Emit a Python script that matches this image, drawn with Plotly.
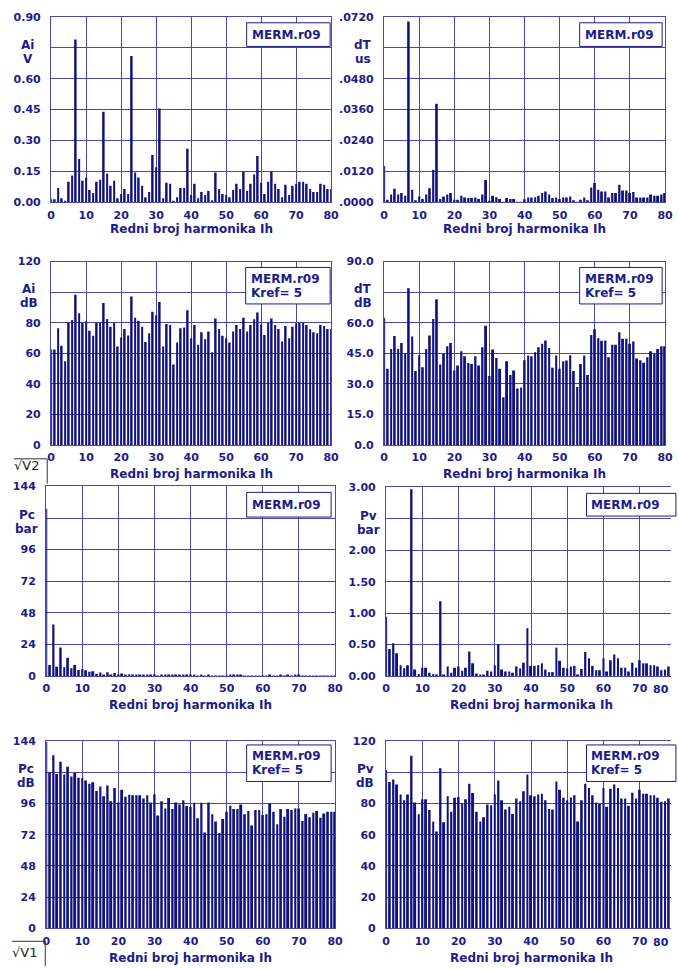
import plotly.graph_objects as go

# Harmonic spectra of the MERM.r09 measurement: amplitudes and their dB levels
harmonics = list(range(81))

ai_v = [0.015, 0.015, 0.07, 0.02, 0.007, 0.10, 0.13, 0.79, 0.21, 0.105,
        0.12, 0.06, 0.045, 0.10, 0.11, 0.44, 0.14, 0.08, 0.105, 0.02,
        0.04, 0.065, 0.04, 0.71, 0.145, 0.12, 0.08, 0.025, 0.05, 0.23,
        0.17, 0.455, 0.02, 0.095, 0.09, 0.005, 0.025, 0.07, 0.07, 0.26,
        0.035, 0.09, 0.02, 0.05, 0.035, 0.055, 0.01, 0.145, 0.065, 0.04,
        0.035, 0.025, 0.06, 0.09, 0.065, 0.15, 0.055, 0.09, 0.135, 0.225,
        0.095, 0.04, 0.10, 0.15, 0.09, 0.065, 0.025, 0.085, 0.035, 0.08,
        0.09, 0.10, 0.10, 0.09, 0.065, 0.05, 0.05, 0.09, 0.085, 0.065, 0.065]

dt_us = [0.0141, 0.001, 0.003, 0.0053, 0.003, 0.0036, 0.0026, 0.0702, 0.0049, 0.0008,
         0.0023, 0.0013, 0.003, 0.0055, 0.0126, 0.0383, 0.0013, 0.0023, 0.003, 0.0036,
         0.001, 0.001, 0.0026, 0.0019, 0.0017, 0.0017, 0.0019, 0.0013, 0.003, 0.0087,
         0.0004, 0.0026, 0.002, 0.0013, 0.0001, 0.0017, 0.0013, 0.0013, 0.0001, 0.0001,
         0.0012, 0.0019, 0.0019, 0.002, 0.0026, 0.0036, 0.0042, 0.003, 0.0017, 0.0019,
         0.0013, 0.0019, 0.0019, 0.0023, 0.0008, 0.0001, 0.001, 0.0019, 0.0008, 0.0058,
         0.0075, 0.0049, 0.0042, 0.0042, 0.0019, 0.0036, 0.0036, 0.0068, 0.0046, 0.0046,
         0.0036, 0.004, 0.0019, 0.0019, 0.0019, 0.0019, 0.003, 0.0026, 0.0026, 0.003, 0.0036]

ai_db = [62.4, 62.4, 76.3, 65, 54.8, 80, 81.7, 98.3, 86.2, 80,
         81, 74.8, 71.4, 80, 80, 92.9, 82.4, 77.4, 80, 64.5,
         70.3, 75.9, 71.6, 97.2, 83.2, 81.3, 77.4, 67.3, 73.1, 87.1,
         84.9, 93.5, 64.5, 79.1, 78.5, 52.7, 67, 76.3, 76.8, 88.2,
         69.9, 78.5, 65.6, 73.8, 69.2, 74.2, 60.6, 82.8, 75.9, 71.4,
         69.9, 67, 74.2, 78.5, 75.9, 83.2, 74.2, 78.5, 82.2, 86.7,
         78.9, 72, 80, 82.8, 78.5, 75.9, 67.7, 77.8, 69.9, 77.4,
         79.6, 80, 80, 78.5, 75.7, 73.8, 73.1, 78.5, 77.8, 75.9, 75.9]

dt_db = [62.4, 37.4, 47.1, 53.5, 47.1, 50, 44.8, 76.9, 53.2, 36.3,
         44, 38.2, 47.1, 53.7, 61.8, 71.5, 39.5, 44.8, 48.4, 50,
         36.6, 39, 46, 43.5, 40.2, 39.8, 43.5, 39, 47.9, 58.5,
         33.9, 46.8, 42.7, 37.4, 23.4, 41.1, 34.4, 36.6, 27.7, 28.2,
         41.6, 43.9, 43.5, 45.5, 47.9, 49.7, 51.3, 47.6, 37.9, 43.9,
         37.4, 41.1, 41.5, 44, 36.3, 28.5, 39.8, 43.9, 34.4, 54,
         56.8, 52.4, 51.1, 51.3, 43.1, 49.2, 49.2, 55.3, 52.1, 52.1,
         49.7, 50.8, 42.4, 41.6, 40.3, 43.1, 46, 44.8, 47.1, 48.4, 48.4]

pc_bar = [127, 8.3, 39, 7, 21.5, 6.5, 13.8, 5.8, 8.3, 4.5,
          5.3, 4.2, 3.2, 3.6, 1.7, 2.5, 1.05, 2.7, 0.7, 2.2,
          0.6, 1.9, 1.0, 1.2, 1.1, 1.1, 1.1, 0.85, 1.1, 0.6,
          1.2, 0.19, 0.7, 0.35, 0.9, 0.33, 0.6, 0.5, 0.73, 0.44,
          0.41, 0.58, 0.15, 0.58, 0.04, 0.6, 0.21, 0.11, 0.04, 0.14,
          0.27, 0.45, 0.33, 0.33, 0.5, 0.21, 0.28, 0.08, 0.31, 0.31,
          0.2, 0.21, 0.55, 0.27, 0.09, 0.33, 0.17, 0.33, 0.31, 0.35,
          0.35, 0.12, 0.22, 0.16, 0.24, 0.28, 0.16, 0.23, 0.27, 0.27, 0.27]

pv_bar = [0.94, 0.43, 0.52, 0.36, 0.17, 0.12, 0.17, 2.97, 0.10, 0.03,
          0.13, 0.13, 0.05, 0.03, 0.01, 1.19, 0.02, 0.15, 0.05, 0.13,
          0.15, 0.08, 0.13, 0.39, 0.2, 0.04, 0.02, 0.02, 0.08, 0.07,
          0.17, 0.5, 0.1, 0.07, 0.07, 0.05, 0.15, 0.12, 0.21, 0.76,
          0.16, 0.16, 0.17, 0.2, 0.1, 0.06, 0.06, 0.45, 0.24, 0.13,
          0.12, 0.15, 0.16, 0.02, 0.11, 0.38, 0.28, 0.16, 0.09, 0.09,
          0.28, 0.07, 0.25, 0.34, 0.28, 0.13, 0.13, 0.07, 0.21, 0.13,
          0.25, 0.2, 0.2, 0.17, 0.17, 0.15, 0.09, 0.1, 0.15, 0.13, 0.13]

pc_db = [143.3, 120, 133.1, 118.7, 128.1, 118.2, 124.3, 116.7, 119.5, 115.7,
         115.5, 113.7, 111.2, 112.4, 105.6, 109.1, 101.6, 109.9, 97.8, 107.9,
         96.8, 106.6, 101.1, 102.8, 102.3, 102.3, 102.3, 99.8, 102.3, 96.8,
         103.1, 86.7, 97.8, 92.2, 100.3, 91.7, 96.8, 95.3, 98.5, 94,
         93.5, 96.5, 84.6, 96.5, 73.8, 96.8, 87.7, 82.1, 73.3, 84.1,
         89.7, 94.2, 91.7, 91.7, 95.3, 87.7, 90.2, 79.1, 91, 91,
         87.2, 87.7, 96, 89.7, 80.1, 91.7, 85.9, 91.7, 91, 92.2,
         92.2, 82.6, 87.9, 85.4, 88.9, 90.2, 85.1, 88.4, 89.7, 89.7, 89.7]

pv_db = [101.5, 93.7, 95.4, 92.2, 85.7, 82.1, 85.7, 110.5, 80.6, 73.1,
         82.7, 82.7, 75.8, 68.4, 62.1, 102.5, 68, 84.6, 74.7, 83.6,
         84.2, 80, 82.7, 92.6, 86.7, 74.7, 68.4, 71.2, 79.4, 78.9,
         85.9, 94.7, 82.1, 76.2, 77.9, 73.3, 83.2, 81.5, 87.8, 98.5,
         85.3, 84.6, 85.7, 86.3, 82.1, 76.4, 76.2, 94.1, 88.8, 83.6,
         82.1, 83.8, 85.3, 68.4, 82.1, 92.6, 89.9, 85.3, 80.6, 79.6,
         89.9, 77.9, 89.5, 92.2, 89.9, 83.2, 83.2, 78.5, 86.9, 83.2,
         88.8, 86.3, 86.3, 85.3, 85.3, 83.6, 81.1, 81.5, 83.2, 82.7, 82.7]

# y tick positions and labels (the blank slot carries the quantity/unit label)
ai_v_ticks = [0, 0.15, 0.30, 0.45, 0.60, 0.75, 0.90]
ai_v_text = ["0.00", "0.15", "0.30", "0.45", "0.60", "", "0.90"]
dt_us_ticks = [0, 0.012, 0.024, 0.036, 0.048, 0.060, 0.072]
dt_us_text = [".0000", ".0120", ".0240", ".0360", ".0480", "", ".0720"]
ai_db_ticks = [0, 20, 40, 60, 80, 100, 120]
ai_db_text = ["0", "20", "40", "60", "80", "", "120"]
dt_db_ticks = [0, 15, 30, 45, 60, 75, 90]
dt_db_text = ["0.0", "15.0", "30.0", "45.0", "60.0", "", "90.0"]
pc_bar_ticks = [0, 24, 48, 72, 96, 120, 144]
pc_bar_text = ["0", "24", "48", "72", "96", "", "144"]
pv_bar_ticks = [0, 0.5, 1.0, 1.5, 2.0, 2.5, 3.0]
pv_bar_text = ["0.00", "0.50", "1.00", "1.50", "2.00", "", "3.00"]
pc_db_ticks = pc_bar_ticks
pc_db_text = pc_bar_text
pv_db_ticks = ai_db_ticks
pv_db_text = ai_db_text
x_ticks = [0, 10, 20, 30, 40, 50, 60, 70, 80]

W, H = 679, 969
BAR = "#10107e"
GRID = "#4a4aa6"
TEXT = "#1c1c8a"
FAMILY = "DejaVu Sans"
XTITLE = "Redni broj harmonika Ih"


def fx(p):
    return p / W


def fy(p):
    return 1 - p / H


# pixel frame of each panel: left, right(80), top, bottom
panels = [
    dict(v=ai_v, tv=ai_v_ticks, tt=ai_v_text, ymax=0.9, x0=48, x1=333, t=11, b=199,
         unit=("Ai", "V"), ux=24, box=(247, 17, 332, 41), lines=["MERM.r09"], title_y=226),
    dict(v=dt_us, tv=dt_us_ticks, tt=dt_us_text, ymax=0.072, x0=387, x1=673, t=11, b=199,
         unit=("dT", "us"), ux=365, box=(586, 17, 670, 41), lines=["MERM.r09"], title_y=226),
    dict(v=ai_db, tv=ai_db_ticks, tt=ai_db_text, ymax=120, x0=48, x1=333, t=259, b=445,
         unit=("Ai", "dB"), ux=25, box=(246, 265, 332, 302), lines=["MERM.r09", "Kref= 5"], title_y=474),
    dict(v=dt_db, tv=dt_db_ticks, tt=dt_db_text, ymax=90, x0=387, x1=673, t=259, b=445,
         unit=("dT", "dB"), ux=365, box=(586, 265, 670, 302), lines=["MERM.r09", "Kref= 5"], title_y=474),
    dict(v=pc_bar, tv=pc_bar_ticks, tt=pc_bar_text, ymax=144, x0=43, x1=337, t=487, b=679,
         unit=("Pc", "bar"), ux=23, box=(247, 493, 333, 518), lines=["MERM.r09"], title_y=709),
    dict(v=pv_bar, tv=pv_bar_ticks, tt=pv_bar_text, ymax=3.0, x0=389, x1=684, t=488, b=679,
         unit=("Pv", "bar"), ux=371, box=(593, 494, 684, 517), lines=["MERM.r09"], title_y=709),
    dict(v=pc_db, tv=pc_db_ticks, tt=pc_db_text, ymax=144, x0=43, x1=337, t=745, b=935,
         unit=("Pc", "dB"), ux=22, box=(247, 749, 333, 786), lines=["MERM.r09", "Kref= 5"], title_y=965),
    dict(v=pv_db, tv=pv_db_ticks, tt=pv_db_text, ymax=120, x0=389, x1=684, t=745, b=935,
         unit=("Pv", "dB"), ux=368, box=(593, 749, 684, 786), lines=["MERM.r09", "Kref= 5"], title_y=965),
]

fig = go.Figure()
layout = dict(
    width=W, height=H, margin=dict(l=0, r=0, t=0, b=0),
    paper_bgcolor="white", plot_bgcolor="white", showlegend=False,
    annotations=[], shapes=[],
)

tick_font = dict(family=FAMILY, size=11, color=TEXT, weight="bold")
label_font = dict(family=FAMILY, size=12, color=TEXT, weight="bold")


def text_at(x, y, s, font, anchor="center"):
    layout["annotations"].append(dict(
        xref="paper", yref="paper", x=fx(x), y=fy(y), xanchor=anchor, yanchor="middle",
        text=s, showarrow=False, font=font,
    ))


for i, p in enumerate(panels, start=1):
    sfx = "" if i == 1 else str(i)
    clipped = p["x1"] > W
    right = min(p["x1"], W)
    xmax = 80 * (right - p["x0"]) / (p["x1"] - p["x0"])

    fig.add_trace(go.Bar(
        x=harmonics, y=p["v"], xaxis="x" + sfx, yaxis="y" + sfx,
        width=0.55, marker=dict(color=BAR, line=dict(width=0)),
        hoverinfo="x+y",
    ))

    layout["xaxis" + sfx] = dict(
        domain=[fx(p["x0"]), fx(right)], range=[0, xmax], anchor="y" + sfx,
        tickmode="array", tickvals=x_ticks, ticktext=[str(t) for t in x_ticks],
        showgrid=True, gridcolor=GRID, gridwidth=1.4, zeroline=False,
        showline=True, linecolor=GRID, linewidth=1.4, mirror=True,
        ticks="", ticklabelstandoff=2, tickfont=tick_font, fixedrange=True,
    )
    layout["yaxis" + sfx] = dict(
        domain=[fy(p["b"]), fy(p["t"])], range=[0, p["ymax"]], anchor="x" + sfx,
        tickmode="array", tickvals=p["tv"], ticktext=p["tt"],
        showgrid=True, gridcolor=GRID, gridwidth=1.4, zeroline=False,
        showline=True, linecolor=GRID, linewidth=1.4, mirror=not clipped,
        ticks="", ticklabelstandoff=7, tickfont=tick_font, fixedrange=True,
    )

    # quantity / unit label in the empty tick slot
    grid_y = p["t"] + (p["b"] - p["t"]) * (1 - p["tv"][5] / p["ymax"])
    text_at(p["ux"], grid_y - 3, p["unit"][0], label_font)
    text_at(p["ux"], grid_y + 11, p["unit"][1], label_font)

    # file name / reference box
    bx0, by0, bx1, by1 = p["box"]
    layout["shapes"].append(dict(
        type="rect", xref="paper", yref="paper", layer="above",
        x0=fx(bx0), x1=fx(bx1), y0=fy(by1), y1=fy(by0),
        fillcolor="white", line=dict(color=TEXT, width=1),
    ))
    n = len(p["lines"])
    mid = (by0 + by1) / 2
    for k, s in enumerate(p["lines"]):
        text_at(bx0 + 3, mid + (k - (n - 1) / 2) * 14, s, label_font, anchor="left")

    # axis title
    text_at((p["x0"] + p["x1"]) / 2, p["title_y"], XTITLE, label_font)

    # last tick label of the panels that run past the right edge
    if clipped:
        text_at(W, p["b"] + 14, "80", tick_font, anchor="right")

# channel tabs at the lower left of the dB rows
for (lx, ly, label, ty) in [(10, 459, "√V2", 466), (8, 948, "√V1", 959)]:
    layout["shapes"].append(dict(type="line", xref="paper", yref="paper",
                                 x0=fx(lx), x1=fx(lx + 34), y0=fy(ly), y1=fy(ly),
                                 line=dict(color="#333333", width=1)))
    layout["shapes"].append(dict(type="line", xref="paper", yref="paper",
                                 x0=fx(lx + 34), x1=fx(lx + 34), y0=fy(ly), y1=fy(ly + 25),
                                 line=dict(color="#333333", width=1)))
    text_at(lx + 13, ty, label, dict(family=FAMILY, size=13, color="#222222"))

fig.update_layout(**layout)
fig.write_html("out.html")
